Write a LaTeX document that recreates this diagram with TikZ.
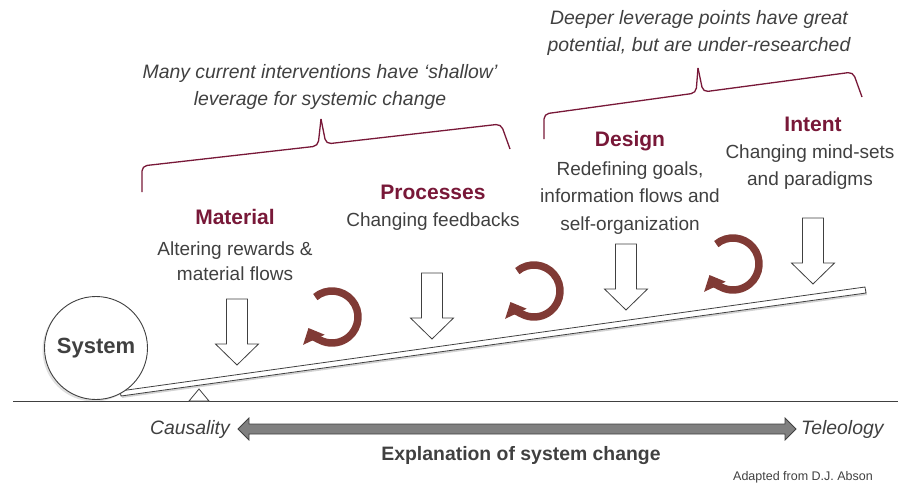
\documentclass[tikz,border=0pt]{standalone}
\usepackage{fontspec}
\setmainfont{Liberation Sans}
\usetikzlibrary{arrows.meta}
\usetikzlibrary{shadows}

\definecolor{maroon}{RGB}{120,24,56}
\definecolor{rust}{RGB}{128,58,53}
\definecolor{ink}{RGB}{64,64,64}
\definecolor{barfill}{RGB}{128,128,128}

\begin{document}
\begin{tikzpicture}[x=1pt,y=-1pt]
\tikzset{title/.style = {font=\fontsize{21}{23}\selectfont\bfseries, text=maroon, inner sep=0pt}}
\tikzset{body/.style = {font=\fontsize{19}{27.5}\selectfont, text=ink, align=center, inner sep=0pt}}
\tikzset{note/.style = {font=\fontsize{19.4}{27.5}\selectfont\itshape, text=ink, align=center, inner sep=0pt}}
\tikzset{brace/.style = {draw=maroon, line width=1.3pt, rounded corners=5pt}}
\tikzset{cycle arrow/.style = {draw=rust, line width=7.5pt, -{Triangle[width=23pt,length=13pt]}}}
\tikzset{arrline/.style = {draw=ink, fill=white, line width=0.8pt, line join=miter}}
\tikzset{pics/downarr/.style = {code = {
  \draw[arrline] (-10.5,-33) -- (10.5,-33) -- (10.5,12) -- (21.5,12) -- (0,33)
    -- (-21.5,12) -- (-10.5,12) -- cycle;}}}
\useasboundingbox (0,0) rectangle (898,488);

% ground, fulcrum and lever
\draw[ink, line width=0.9pt] (13,401) -- (898,401);
\draw[ink, fill=white, line width=0.8pt] (189,401) -- (199,389) -- (209,401) -- cycle;
\draw[ink, fill=white, line width=0.8pt, drop shadow={opacity=0.35, shadow xshift=1pt, shadow yshift=-2pt}]
  (121,396) -- (866,293) -- (865,287) -- (120,391) -- cycle;
\node[circle, draw=ink, fill=white, line width=0.9pt, minimum size=103pt,
  drop shadow={opacity=0.25, shadow xshift=-2pt, shadow yshift=-2pt},
  font=\fontsize{22}{24}\selectfont\bfseries, text=ink](sys) at (96,348) {System};

% push arrows
\pic (pa) at (237,332) {downarr};
\pic (pb) at (432,306) {downarr};
\pic (pc) at (626,277) {downarr};
\pic (pd) at (813,251) {downarr};

% feedback loops
\draw[cycle arrow] ([shift={(-130:26)}]332,317) arc[start angle=-130, end angle=155, radius=26];
\draw[cycle arrow] ([shift={(-130:26)}]534,291) arc[start angle=-130, end angle=155, radius=26];
\draw[cycle arrow] ([shift={(-130:26)}]733,264) arc[start angle=-130, end angle=155, radius=26];

% labels of the leverage points
\node[title](mat) at (235,217) {Material};
\node[body, font=\fontsize{19}{25.5}\selectfont](matd) at (235,261) {Altering rewards \&\\material flows};
\node[title](pro) at (433,192) {Processes};
\node[body](prod) at (433,222) {Changing feedbacks};
\node[title](des) at (630,141) {Design};
\node[body](desd) at (630,198) {Redefining goals,\\information flows and\\self-organization};
\node[title](inte) at (813,124) {Intent};
\node[body](inted) at (810,167) {Changing mind-sets\\and paradigms};

% braces and notes
\draw[brace] (142,192) -- (142,166) -- (318,146) -- (321,119);
\draw[brace] (321,119) -- (326,144) -- (501,124) -- (510,149);
\node[note](shallow) at (320,87) {Many current interventions have `shallow'\\leverage for systemic change};
\draw[brace] (544,139) -- (544,114) -- (696,93) -- (698,68);
\draw[brace] (698,68) -- (703,92) -- (853,72) -- (862,97);
\node[note](deep) at (699,33) {Deeper leverage points have great\\potential, but are under-researched};

% explanation axis
\node[note, anchor=east](caus) at (230,429) {Causality};
\node[note, anchor=west](tele) at (801,429) {Teleology};
\draw[draw=ink, fill=barfill, line width=0.8pt] (238,429) -- (249,418) -- (249,424) -- (785,424)
  -- (785,418) -- (796,429) -- (785,440) -- (785,434) -- (249,434) -- (249,440) -- cycle;
\node[font=\fontsize{19.4}{22}\selectfont\bfseries, text=ink](expl) at (521,456) {Explanation of system change};
\node[font=\fontsize{12.5}{14}\selectfont, text=ink](src) at (803,477) {Adapted from D.J. Abson};
\end{tikzpicture}
\end{document}
